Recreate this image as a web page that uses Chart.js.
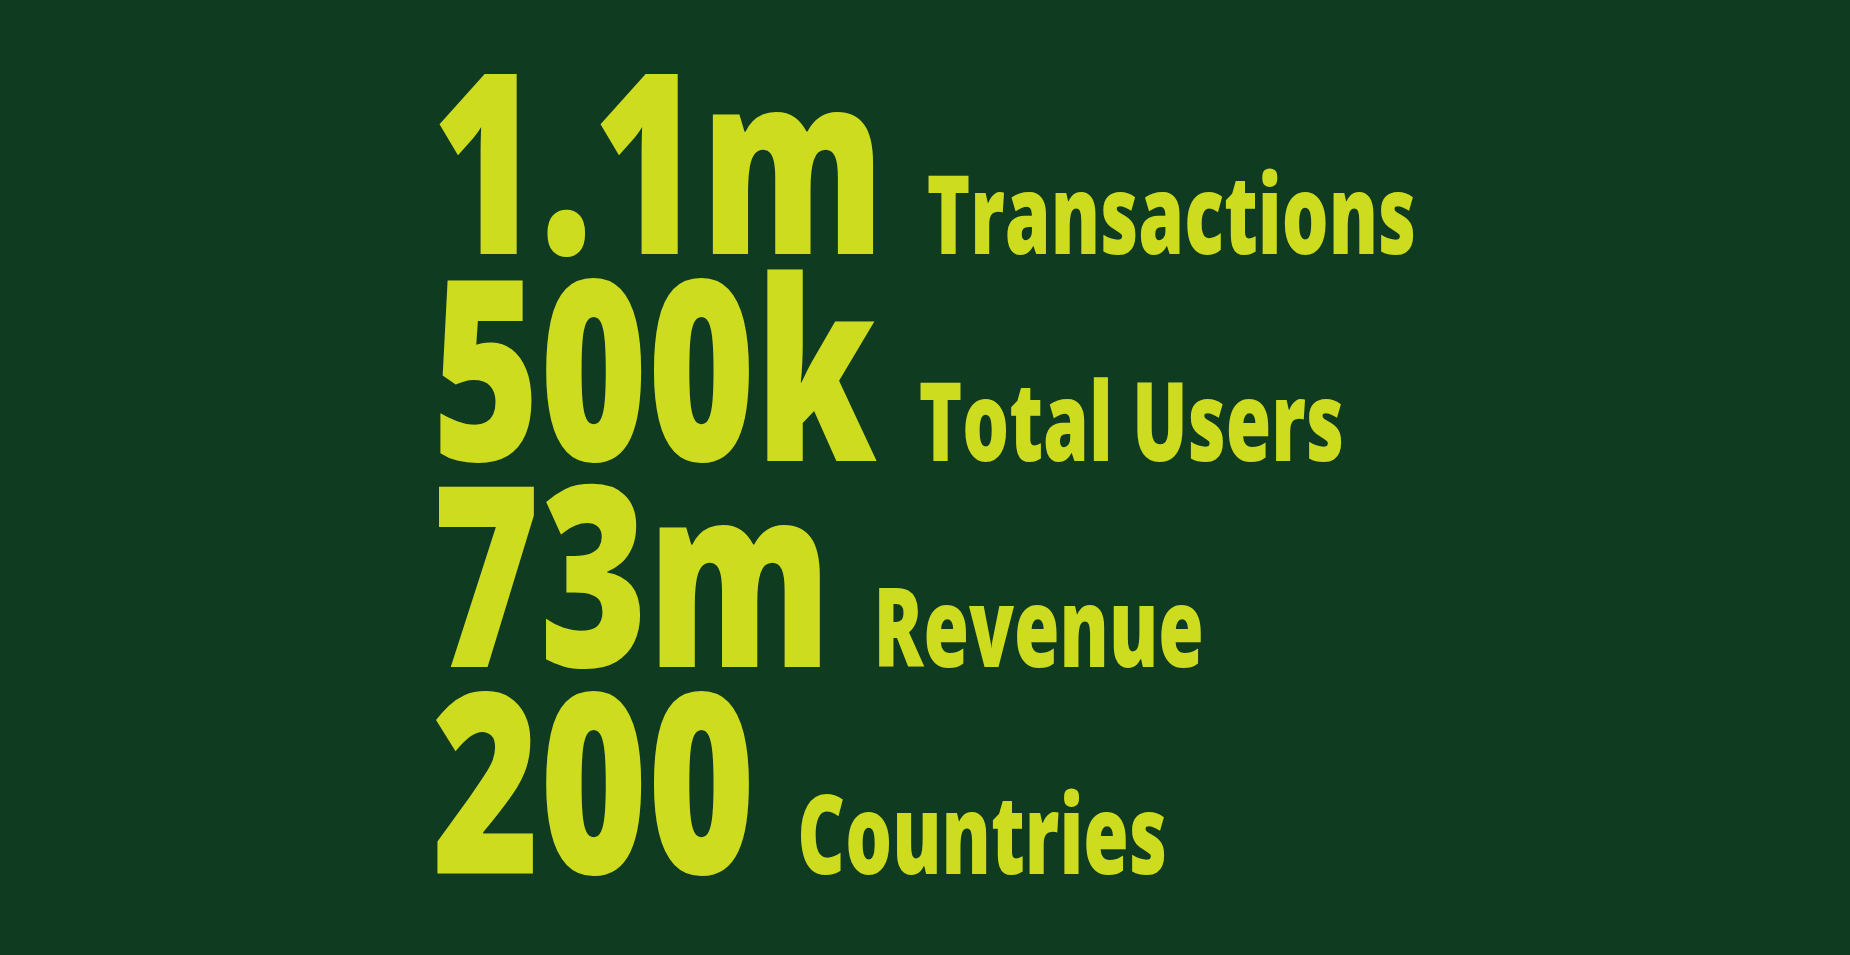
<!DOCTYPE html>
<html>
<head>
<meta charset="utf-8">
<script src="https://cdn.jsdelivr.net/npm/chart.js@4"></script>
<style>
  html, body { margin: 0; padding: 0; background: #0f3b20; }
  #wrap { width: 1850px; height: 955px; }
</style>
</head>
<body>
<div id="wrap"><canvas id="statsChart"></canvas></div>
<script>
// headline figures and their captions
const figures = ['1.1m', '500k', '73m', '200'];
const captions = ['Transactions', 'Total Users', 'Revenue', 'Countries'];

const textColor = '#cddc1f';
const condense = 0.73;
const captionCondense = 0.67;

const statsPlugin = {
    id: 'stats',
    afterDraw(chart) {
        const ctx = chart.ctx;
        const left = 432;
        const firstBase = 254;
        const step = 206.5;
        ctx.save();
        ctx.fillStyle = textColor;
        ctx.textBaseline = 'alphabetic';
        figures.forEach((fig, i) => {
            const base = firstBase + i * step;
            ctx.font = '800 252px "Open Sans"';
            const w = ctx.measureText(fig).width * condense;
            ctx.save();
            ctx.translate(left, base);
            ctx.scale(condense, 1);
            ctx.fillText(fig, 0, 0);
            ctx.restore();
            ctx.save();
            ctx.translate(left + w + 42, base);
            ctx.scale(captionCondense, 1);
            ctx.font = '800 110px "Open Sans"';
            ctx.fillText(captions[i], 0, 0);
            ctx.restore();
        });
        ctx.restore();
    }
};

new Chart(document.getElementById('statsChart'), {
    type: 'bar',
    data: { labels: captions, datasets: [{ data: [], backgroundColor: textColor }] },
    options: {
        responsive: true,
        maintainAspectRatio: false,
        animation: false,
        plugins: { legend: { display: false }, tooltip: { enabled: false } },
        scales: { x: { display: false }, y: { display: false } }
    },
    plugins: [statsPlugin]
});
</script>
</body>
</html>
